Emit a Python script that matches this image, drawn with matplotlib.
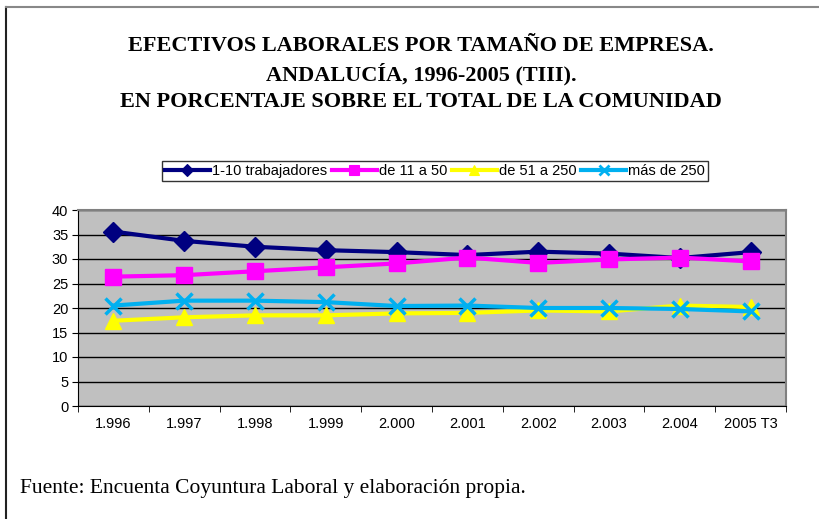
import matplotlib
matplotlib.use("Agg")
import matplotlib.pyplot as plt
from matplotlib.lines import Line2D

categories = ["1.996", "1.997", "1.998", "1.999", "2.000", "2.001", "2.002", "2.003", "2.004", "2005 T3"]
s_1_10 = [35.6, 33.7, 32.5, 31.8, 31.4, 30.8, 31.5, 31.1, 30.2, 31.4]
s_11_50 = [26.4, 26.7, 27.5, 28.3, 29.1, 30.3, 29.2, 29.9, 30.3, 29.5]
s_51_250 = [17.4, 18.1, 18.5, 18.5, 18.9, 19.0, 19.5, 19.3, 20.5, 20.2]
s_250 = [20.5, 21.5, 21.5, 21.2, 20.4, 20.5, 20.0, 20.0, 19.8, 19.3]
labels = ["1-10 trabajadores", "de 11 a 50", "de 51 a 250", "más de 250"]
yticks = [0, 5, 10, 15, 20, 25, 30, 35, 40]

W, H = 819, 519
fig = plt.figure(figsize=(W / 100, H / 100), dpi=100)

# outer frame lines
fig.add_artist(Line2D([5.5 / W, 5.5 / W], [0, 1 - 6.5 / H], transform=fig.transFigure, color="#222222", lw=1.5))
fig.add_artist(Line2D([5.5 / W, 1], [1 - 6.5 / H, 1 - 6.5 / H], transform=fig.transFigure, color="#888888", lw=1.5))

serif = ["Liberation Serif", "DejaVu Serif"]
sans = ["Liberation Sans", "DejaVu Sans"]

fig.text(421 / W, 1 - 46 / H, "EFECTIVOS LABORALES POR TAMAÑO DE EMPRESA.", ha="center", va="center",
         family=serif, fontsize=16, fontweight="bold")
fig.text(421 / W, 1 - 74 / H, "ANDALUCÍA, 1996-2005 (TIII).", ha="center", va="center",
         family=serif, fontsize=16, fontweight="bold")
fig.text(421 / W, 1 - 102 / H, "EN PORCENTAJE SOBRE EL TOTAL DE LA COMUNIDAD", ha="center", va="center",
         family=serif, fontsize=16, fontweight="bold")
fig.text(20 / W, 1 - 488 / H, "Fuente: Encuenta Coyuntura Laboral y elaboración propia.", ha="left", va="center",
         family=serif, fontsize=15.5)

x0, x1, y0, y1 = 78, 786, 210, 406
ax = fig.add_axes([x0 / W, 1 - y1 / H, (x1 - x0) / W, (y1 - y0) / H])
ax.set_facecolor("#C0C0C0")

x = list(range(len(categories)))
series = [s_1_10, s_11_50, s_51_250, s_250]
colors = ["#000080", "#FF00FF", "#FFFF00", "#00B0F0"]
markers = ["D", "s", "^", "x"]
msizes = [10, 11, 12, 12]
handles = []
for s, c, m, ms, lab in zip(series, colors, markers, msizes, labels):
    mew = 2.5 if m == "x" else 1
    ln, = ax.plot(x, s, color=c, lw=3, marker=m, markersize=ms, markeredgewidth=mew,
                  markeredgecolor=c, markerfacecolor=c, label=lab, zorder=3)
    handles.append(ln)

ax.set_xlim(-0.5, len(categories) - 0.5)
ax.set_ylim(0, 40)
ax.set_yticks(yticks)
ax.set_yticklabels([str(v) for v in yticks], family=sans, fontsize=10.5)
ax.yaxis.grid(True, color="black", lw=1)
ax.set_axisbelow(True)
ax.set_xticks(x)
ax.set_xticklabels(categories, family=sans, fontsize=10.5)
ax.set_xticks([i - 0.5 for i in range(len(categories) + 1)], minor=True)
ax.tick_params(axis="x", which="major", length=0, pad=8)
ax.tick_params(axis="x", which="minor", length=4, direction="out", color="black")
ax.tick_params(axis="y", length=4, direction="out", pad=3)
for side in ["top", "right"]:
    ax.spines[side].set_color("#808080")
    ax.spines[side].set_linewidth(1.5)
ax.spines["left"].set_color("black")
ax.spines["bottom"].set_color("black")

leg_handles = []
for c, m, ms in zip(colors, markers, msizes):
    mew = 2.5 if m == "x" else 1
    leg_handles.append(Line2D([0], [0], color=c, lw=3, marker=m, markersize=ms * 0.6,
                              markeredgewidth=mew * 0.8, markeredgecolor=c, markerfacecolor=c))
leg = fig.legend(leg_handles, labels, loc="center", bbox_to_anchor=(435 / W, 1 - 171 / H), ncol=4,
                 frameon=True, fancybox=False, edgecolor="black", handlelength=3.1, handletextpad=0.15,
                 columnspacing=0.3, borderpad=0.2, borderaxespad=0, prop={"family": sans, "size": 10.5})
leg.get_frame().set_linewidth(1)

fig.savefig("out.png", dpi=100)
